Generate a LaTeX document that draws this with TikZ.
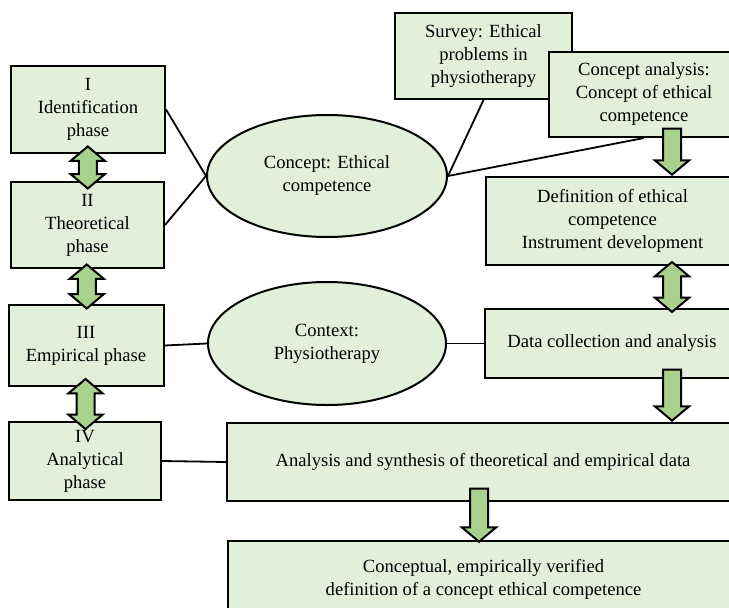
\documentclass[tikz,border=0pt]{standalone}
\usepackage{fontspec}
\setmainfont{Liberation Serif}
\usetikzlibrary{shapes.geometric,shapes.arrows,calc}
\definecolor{boxfill}{HTML}{E2EFD9}
\definecolor{arrfill}{HTML}{A9D18E}
\begin{document}
\begin{tikzpicture}[x=1pt,y=-1pt,
  txt/.style={font=\fontsize{18.6}{23}\selectfont},
  box/.style={txt, draw=black, line width=2pt, fill=boxfill, align=center, inner sep=0pt},
  oval/.style={txt, ellipse, draw=black, line width=2pt, fill=boxfill, align=center, inner sep=0pt},
  link/.style={draw=black, line width=1.8pt},
  darrow/.style={double arrow, draw=black, line width=2pt, fill=arrfill, inner xsep=0pt, inner ysep=8pt,
    double arrow head extend=8pt, double arrow tip angle=100, rotate=90},
  sarrow/.style={single arrow, draw=black, line width=2pt, fill=arrfill, inner xsep=0pt, inner ysep=8pt,
    single arrow head extend=8pt, single arrow tip angle=100, rotate=-90, anchor=tip}]
\useasboundingbox (0,0) rectangle (729,608);
\clip (0,0) rectangle (729,608);

% left phase boxes
\node[box, minimum width=154pt, minimum height=87pt] (p1) at (88,109.5) {I\\Identification\\phase};
\node[box, minimum width=153pt, minimum height=86pt] (p2) at (87.5,225) {II\\Theoretical\\phase};
\node[box, minimum width=155pt, minimum height=81pt] (p3) at (86,345.5) {III\\Empirical phase};
\node[box, minimum width=152pt, minimum height=78pt] (p4) at (85,461) {IV\\Analytical\\phase};

% ellipses
\node[oval, minimum width=240pt, minimum height=122pt] (e1) at (327,176) {Concept: Ethical\\competence};
\node[oval, minimum width=238pt, minimum height=123pt] (e2) at (327,343.5) {Context:\\Physiotherapy};

% right boxes
\node[box, minimum width=177pt, minimum height=86pt] (sv) at (483.5,56) {Survey: Ethical\\problems in\\physiotherapy};
\node[box, minimum width=190pt, minimum height=85pt] (ca) at (644,94.5) {Concept analysis:\\Concept of ethical\\competence};
\node[box, minimum width=253pt, minimum height=88pt] (df) at (612.5,221) {Definition of ethical\\competence\\Instrument development};
\node[box, minimum width=254pt, minimum height=69pt] (dc) at (612,343.5) {Data collection and analysis};
\node[box, minimum width=512pt, minimum height=78pt] (an) at (483,462) {Analysis and synthesis of theoretical and empirical data};
\node[box, minimum width=511pt, minimum height=76pt] (co) at (483.5,579) {Conceptual, empirically verified\\definition of a concept ethical competence};

% connector lines
\draw[link] (p1.east) -- (e1.west);
\draw[link] (p2.east) -- (e1.west);
\draw[link] (sv.south) -- (e1.east);
\draw[link] (ca.south) -- (e1.east);
\draw[link] (p3.east) -- (e2.west);
\draw[link] (e2.east) -- (dc.west);
\draw[link] (p4.east) -- (an.west);

% block arrows
\coordinate (rx) at (672,0);
\coordinate (cx) at (479,0);
\node[darrow, minimum height=42pt] (d1) at ($(p1.south)!0.5!(p2.north)$) {};
\node[darrow, minimum height=44pt] (d2) at ($(p2.south)!0.5!(p3.north)$) {};
\node[darrow, minimum height=50pt] (d3) at ($(p3.south)!0.5!(p4.north)$) {};
\node[darrow, minimum height=50pt] (d4) at ($(rx |- df.south)!0.5!(rx |- dc.north)$) {};
\node[sarrow, minimum height=46pt] (s1) at (rx |- df.north) {};
\node[sarrow, minimum height=51pt] (s2) at (rx |- an.north) {};
\node[sarrow, minimum height=53pt] (s3) at ($(cx |- co.north)+(0,3)$) {};
\end{tikzpicture}
\end{document}
